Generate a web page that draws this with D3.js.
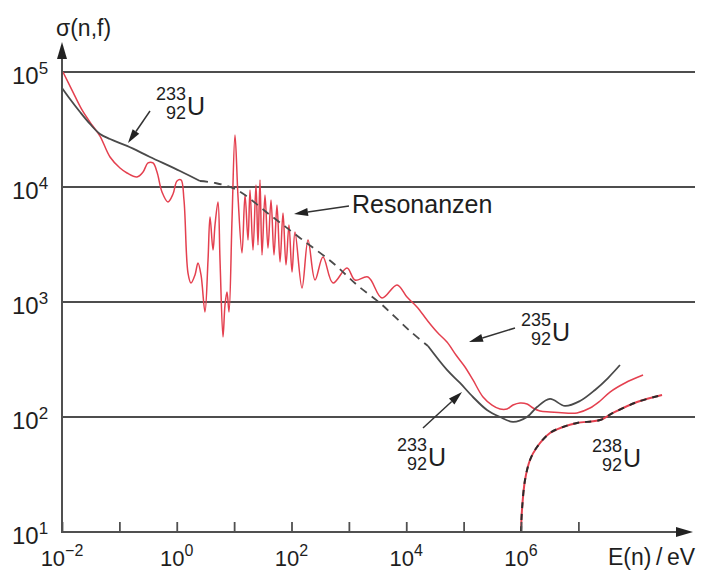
<!DOCTYPE html>
<html><head><meta charset="utf-8">
<script src="https://cdn.jsdelivr.net/npm/d3@7"></script>
<style>body{margin:0;background:#fff} svg{display:block;font-family:"Liberation Sans",Arial,Helvetica,sans-serif}</style>
</head><body><svg id="c" width="702" height="572"></svg>
<script>
// ---- data (log10 E/eV, log10 sigma/barn) ----
const xTickExponents = [-2,-1,0,1,2,3,4,5,6,7];
const xLabelExponents = [-2,0,2,4,6];
const yGridExponents = [2,3,4,5];
const yLabelExponents = [1,2,3,4,5];

// U-235 (red)
const u235LogE = [-1.983,-1.826,-1.651,-1.477,-1.338,-1.163,-0.989,-0.867,-0.693,-0.588,-0.501,-0.414,-0.344,-0.257,-0.153,-0.065,0.004,0.074,0.126,0.196,0.248,0.318,0.370,0.423,0.492,0.545,0.580,0.632,0.667,0.719,0.754,0.806,0.841,0.876,0.911,0.963,1.015,1.068,1.137,1.190,1.242,1.277,1.329,1.381,1.416,1.451,1.486,1.538,1.590,1.643,1.695,1.747,1.800,1.852,1.904,1.956,2.009,2.061,2.183,2.288,2.410,2.549,2.723,2.967,3.107,3.333,3.577,3.839,4.013,4.187,4.362,4.536,4.710,4.867,5.024,5.163,5.338,5.495,5.634,5.756,5.861,5.983,6.105,6.209,6.331,6.505,6.767,6.976,7.203,7.377,7.551,7.813,8.127];
const u235LogSigma = [5.000,4.843,4.670,4.539,4.443,4.261,4.165,4.122,4.087,4.130,4.209,4.209,4.130,3.957,3.870,3.939,4.052,4.061,3.887,3.252,3.165,3.235,3.339,3.235,2.913,3.365,3.739,3.452,3.670,3.870,3.365,2.696,2.974,3.087,2.913,3.713,4.452,3.913,3.426,3.930,3.539,3.974,3.452,4.017,3.496,4.061,3.409,3.930,3.470,3.887,3.409,3.843,3.348,3.774,3.322,3.670,3.261,3.609,3.122,3.539,3.191,3.391,3.165,3.296,3.191,3.217,3.035,3.148,3.043,2.957,2.843,2.739,2.652,2.539,2.435,2.322,2.174,2.104,2.070,2.070,2.104,2.122,2.113,2.078,2.052,2.043,2.035,2.035,2.078,2.139,2.217,2.296,2.365];

// U-233 (dark grey): low-energy solid, resonance region dashed, high-energy solid
const u233LowLogE = [-2.000,-1.861,-1.686,-1.512,-1.338,-1.163,-0.867,-0.466,0.057,0.405];
const u233LowLogSigma = [4.861,4.765,4.652,4.548,4.461,4.417,4.357,4.261,4.139,4.052];
const u233MidLogE = [0.405,0.667,1.050,1.625,2.148,2.723,3.142,3.542,3.804,4.065,4.379];
const u233MidLogSigma = [4.052,4.035,3.974,3.757,3.557,3.339,3.148,2.991,2.870,2.748,2.617];
const u233HighLogE = [4.379,4.710,4.937,5.163,5.407,5.634,5.861,6.105,6.279,6.505,6.767,7.028,7.290,7.516,7.725];
const u233HighLogSigma = [2.617,2.409,2.296,2.174,2.061,2.000,1.957,2.000,2.087,2.157,2.096,2.139,2.235,2.339,2.452];

// U-238 (threshold fission)
const u238LogE = [6.000,6.017,6.070,6.157,6.279,6.505,6.732,6.976,7.377,7.603,8.022,8.458];
const u238LogSigma = [1.000,1.191,1.452,1.626,1.739,1.861,1.913,1.948,1.974,2.035,2.130,2.191];

// ---- drawing ----
const svg = d3.select('#c');
const x = d3.scaleLog().domain([1e-2, 1e6]).range([62, 521]);
const y = d3.scaleLog().domain([10, 1e5]).range([532, 72]);
const pts = (le, ls) => le.map((e, i) => [x(Math.pow(10, e)), y(Math.pow(10, ls[i]))]);
const smooth = d3.line().curve(d3.curveCatmullRom.alpha(0.5));

const RED = '#e4404f', DARK = '#4a4a4a', GRID = '#4d4d4d', TEXT = '#1e1e1e';

// grid lines
svg.append('g').selectAll('line').data(yGridExponents).join('line')
  .attr('x1', 62).attr('x2', 695)
  .attr('y1', d => y(Math.pow(10, d))).attr('y2', d => y(Math.pow(10, d)))
  .attr('stroke', GRID).attr('stroke-width', 2.2);

// curves
svg.append('path').attr('d', smooth(pts(u235LogE, u235LogSigma)))
  .attr('fill', 'none').attr('stroke', RED).attr('stroke-width', 1.5);
svg.append('path').attr('d', smooth(pts(u233LowLogE, u233LowLogSigma)))
  .attr('fill', 'none').attr('stroke', DARK).attr('stroke-width', 1.8);
svg.append('path').attr('d', smooth(pts(u233MidLogE, u233MidLogSigma)))
  .attr('fill', 'none').attr('stroke', DARK).attr('stroke-width', 1.8).attr('stroke-dasharray', '8,6');
svg.append('path').attr('d', smooth(pts(u233HighLogE, u233HighLogSigma)))
  .attr('fill', 'none').attr('stroke', DARK).attr('stroke-width', 1.8);
const u238d = smooth(pts(u238LogE, u238LogSigma));
svg.append('path').attr('d', u238d).attr('fill', 'none').attr('stroke', RED).attr('stroke-width', 2);
svg.append('path').attr('d', u238d).attr('fill', 'none').attr('stroke', '#2a2a2a').attr('stroke-width', 2).attr('stroke-dasharray', '6,6');

// axes
const axisColor = '#505050';
svg.append('line').attr('x1', 62).attr('x2', 680).attr('y1', 532).attr('y2', 532).attr('stroke', axisColor).attr('stroke-width', 2);
svg.append('path').attr('d', 'M693,532 L676,527 L676,537 Z').attr('fill', '#222');
svg.append('line').attr('x1', 62).attr('x2', 62).attr('y1', 533).attr('y2', 56).attr('stroke', axisColor).attr('stroke-width', 2);
svg.append('path').attr('d', 'M62,42 L57,59 L67,59 Z').attr('fill', '#222');

const xAxis = d3.axisBottom(x).tickValues(xTickExponents.map(e => Math.pow(10, e))).tickSize(-10).tickFormat('');
const gx = svg.append('g').attr('transform', 'translate(0,532)').call(xAxis);
gx.select('.domain').remove();
gx.selectAll('line').attr('stroke', axisColor).attr('stroke-width', 1.8);

// tick labels
const xl = svg.append('g').selectAll('text').data(xLabelExponents).join('text')
  .attr('x', d => x(Math.pow(10, d))).attr('y', 566).attr('text-anchor', 'middle')
  .attr('font-size', 22).attr('fill', TEXT);
xl.append('tspan').text('10');
xl.append('tspan').attr('dy', -10).attr('font-size', 16).text(d => String(d).replace('-', '\u2212'));

const yl = svg.append('g').selectAll('text').data(yLabelExponents).join('text')
  .attr('x', 12).attr('y', d => y(Math.pow(10, d)) + 12)
  .attr('font-size', 24).attr('fill', TEXT);
yl.append('tspan').text('10');
yl.append('tspan').attr('dy', -10).attr('font-size', 17).text(d => String(d));

// axis titles
svg.append('text').attr('x', 56).attr('y', 36).attr('font-size', 23).attr('fill', TEXT).text('\u03c3(n,f)');
svg.append('text').attr('x', 608).attr('y', 565).attr('font-size', 23).attr('fill', TEXT).text('E(n)\u2009/\u2009eV');

// annotations
function arrow(x1, y1, x2, y2) {
  const a = Math.atan2(y2 - y1, x2 - x1), L = 14, W = 4;
  const bx = x2 - L * Math.cos(a), by = y2 - L * Math.sin(a);
  svg.append('line').attr('x1', x1).attr('y1', y1).attr('x2', bx).attr('y2', by)
    .attr('stroke', '#333').attr('stroke-width', 1.5);
  const px = -Math.sin(a) * W, py = Math.cos(a) * W;
  svg.append('path').attr('d', `M${x2},${y2} L${bx + px},${by + py} L${bx - px},${by - py} Z`).attr('fill', '#222');
}
function nuclide(xr, yb, mass, z) {
  svg.append('text').attr('x', xr).attr('y', yb).attr('text-anchor', 'end').attr('font-size', 18).attr('fill', TEXT).text(mass);
  svg.append('text').attr('x', xr).attr('y', yb + 19).attr('text-anchor', 'end').attr('font-size', 18).attr('fill', TEXT).text(z);
  svg.append('text').attr('x', xr + 1).attr('y', yb + 15).attr('font-size', 25).attr('fill', TEXT).text('U');
}
nuclide(186, 100, '233', '92');
arrow(150, 111, 128, 143);
svg.append('text').attr('x', 352).attr('y', 213).attr('font-size', 25).attr('fill', TEXT).text('Resonanzen');
arrow(349, 206, 294, 214);
nuclide(551, 326, '235', '92');
arrow(515, 328, 469, 342);
nuclide(427, 451, '233', '92');
arrow(423, 428, 462, 392);
nuclide(622, 452, '238', '92');
</script></body></html>
